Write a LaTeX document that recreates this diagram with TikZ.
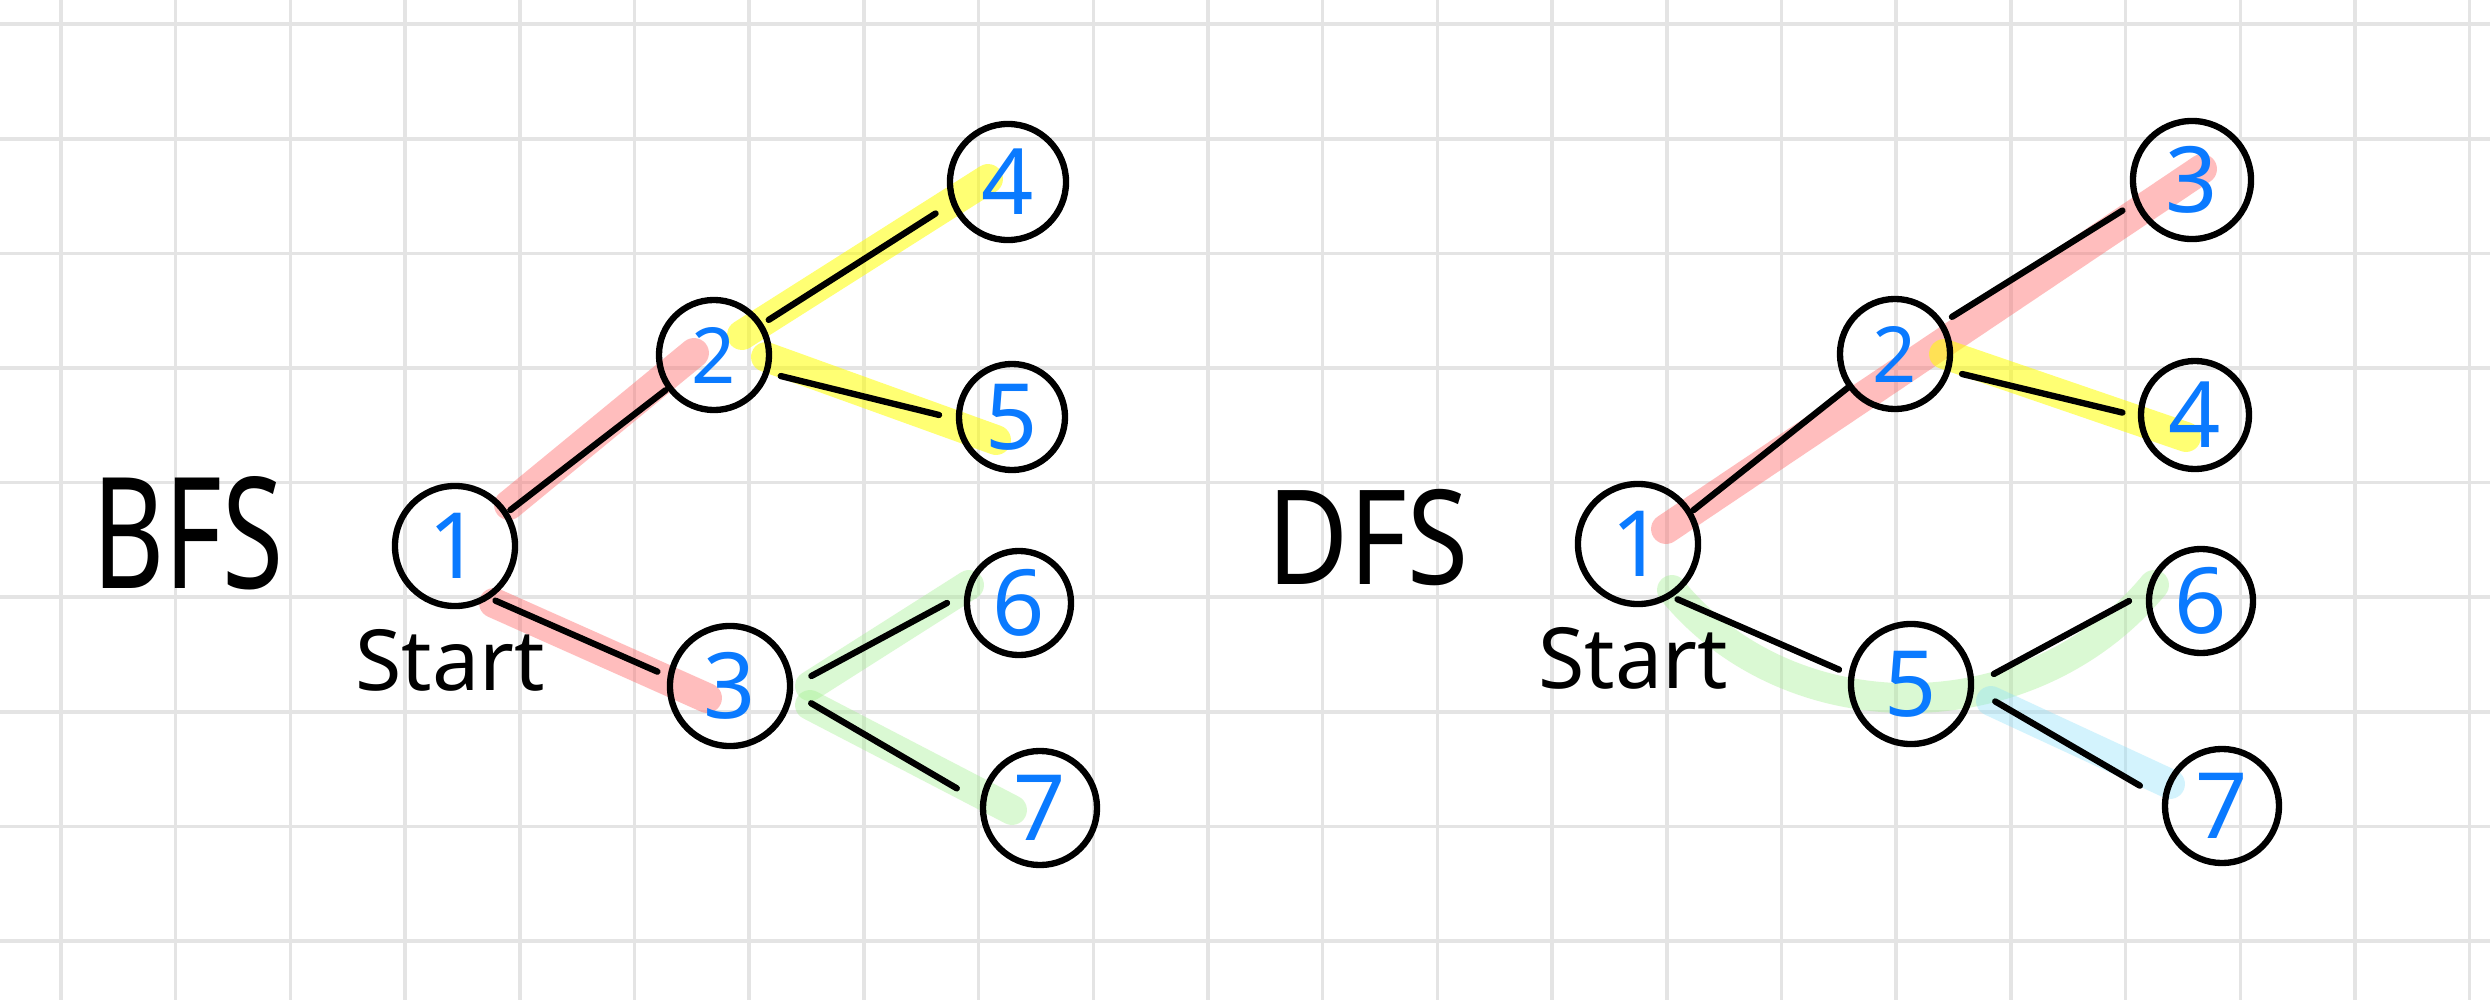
\documentclass[tikz,border=0pt]{standalone}
\usepackage{fontspec}
\setmainfont{Noto Sans}
\definecolor{gridgray}{RGB}{228,228,228}
\definecolor{digitblue}{RGB}{10,122,255}
\definecolor{hlredc}{RGB}{255,100,100}
\definecolor{hlyellowc}{RGB}{255,255,0}
\definecolor{hlgreenc}{RGB}{160,240,140}
\definecolor{hlcyanc}{RGB}{140,225,250}
\begin{document}
\begin{tikzpicture}[x=0.01cm,y=-0.01cm,
  gridline/.style={draw=gridgray, line width=1pt},
  vtx/.style={circle, draw=black, line width=1.8pt, inner sep=0pt,
    text=digitblue, font=\fontsize{26}{26}\selectfont},
  small/.style={font=\fontsize{22}{22}\selectfont},
  edge/.style={draw=black, line width=1.8pt, line cap=round},
  hl/.style={line width=8.5pt, line cap=round},
  hlred/.style={hl, draw=hlredc, draw opacity=0.42},
  hlyellow/.style={hl, draw=hlyellowc, draw opacity=0.55},
  hlgreen/.style={hl, draw=hlgreenc, draw opacity=0.38},
  hlcyan/.style={hl, draw=hlcyanc, draw opacity=0.38},
  title/.style={text=black, font=\fontsize{44}{44}\selectfont},
  startlbl/.style={text=black, font=\fontsize{24}{24}\selectfont}]
\useasboundingbox (0,0) rectangle (2490,1000);
\fill[white] (0,0) rectangle (2490,1000);
% grid
\foreach \k in {0,...,21} \draw[gridline] ({61+114.7*\k},0) -- ({61+114.7*\k},1000);
\foreach \k in {0,...,8} \draw[gridline] (0,{24.2+114.6*\k}) -- (2490,{24.2+114.6*\k});

% highlights BFS
\draw[hlred] (509,505) -- (694,353);
\draw[hlred] (494,603) -- (707,698);
\draw[hlyellow] (742,335) -- (988,179);
\draw[hlyellow] (766,357) -- (996,440);
\draw[hlgreen] (810,686) -- (969,585);
\draw[hlgreen] (810,705) -- (1012,810);
% highlights DFS
\draw[hlred] (1666,529) -- (2202,169);
\draw[hlyellow] (1944,354) -- (2186,437);
\draw[hlgreen] (1672,590) .. controls (1790,735) and (2030,735) .. (2154,585);
\draw[hlcyan] (1991,701) -- (2170,784);

% BFS nodes
\node[vtx, minimum size=1.20cm] (b1) at (455,546) {1};
\node[vtx, minimum size=1.10cm, small] (b2) at (714,355) {2};
\node[vtx, minimum size=1.20cm] (b3) at (730,686) {3};
\node[vtx, minimum size=1.16cm] (b4) at (1008,182) {4};
\node[vtx, minimum size=1.06cm] (b5) at (1012,417) {5};
\node[vtx, minimum size=1.04cm] (b6) at (1019,603) {6};
\node[vtx, minimum size=1.14cm] (b7) at (1040,808) {7};
% DFS nodes
\node[vtx, minimum size=1.20cm] (d1) at (1638,544) {1};
\node[vtx, minimum size=1.10cm, small] (d2) at (1895,354) {2};
\node[vtx, minimum size=1.18cm] (d3) at (2192,180) {3};
\node[vtx, minimum size=1.08cm] (d4) at (2195,415) {4};
\node[vtx, minimum size=1.20cm] (d5) at (1911,684) {5};
\node[vtx, minimum size=1.04cm] (d6) at (2201,601) {6};
\node[vtx, minimum size=1.14cm] (d7) at (2222,806) {7};

% BFS edges
\draw[edge] ([shift={(-33:66)}]b1.center) -- ([shift={(144:60)}]b2.center);
\draw[edge] ([shift={(-32.7:65)}]b2.center) -- ([shift={(156.5:79)}]b4.center);
\draw[edge] ([shift={(17.5:70)}]b2.center) -- ([shift={(181.6:73)}]b5.center);
\draw[edge] ([shift={(53.5:68)}]b1.center) -- ([shift={(191.2:74)}]b3.center);
\draw[edge] ([shift={(-7:82)}]b3.center) -- ([shift={(180:72)}]b6.center);
\draw[edge] ([shift={(12:83)}]b3.center) -- ([shift={(193.3:85.5)}]b7.center);
% DFS edges
\draw[edge] ([shift={(-31.4:65)}]d1.center) -- ([shift={(144.6:55)}]d2.center);
\draw[edge] ([shift={(-33.1:68)}]d2.center) -- ([shift={(156.3:76)}]d3.center);
\draw[edge] ([shift={(16.6:70)}]d2.center) -- ([shift={(181.9:72.6)}]d4.center);
\draw[edge] ([shift={(54.4:68)}]d1.center) -- ([shift={(191.3:73.4)}]d5.center);
\draw[edge] ([shift={(-6.9:83.4)}]d5.center) -- ([shift={(180:72)}]d6.center);
\draw[edge] ([shift={(11.7:86)}]d5.center) -- ([shift={(193.9:84.6)}]d7.center);

% labels
\node[title] (bfs) at (188,533) {\scalebox{0.72}[1]{BFS}};
\node[title] (dfs) at (1368,538) {\scalebox{0.72}[0.85]{DFS}};
\node[startlbl] (bstart) at (450,660) {Start};
\node[startlbl] (dstart) at (1633,658) {Start};
\end{tikzpicture}
\end{document}
